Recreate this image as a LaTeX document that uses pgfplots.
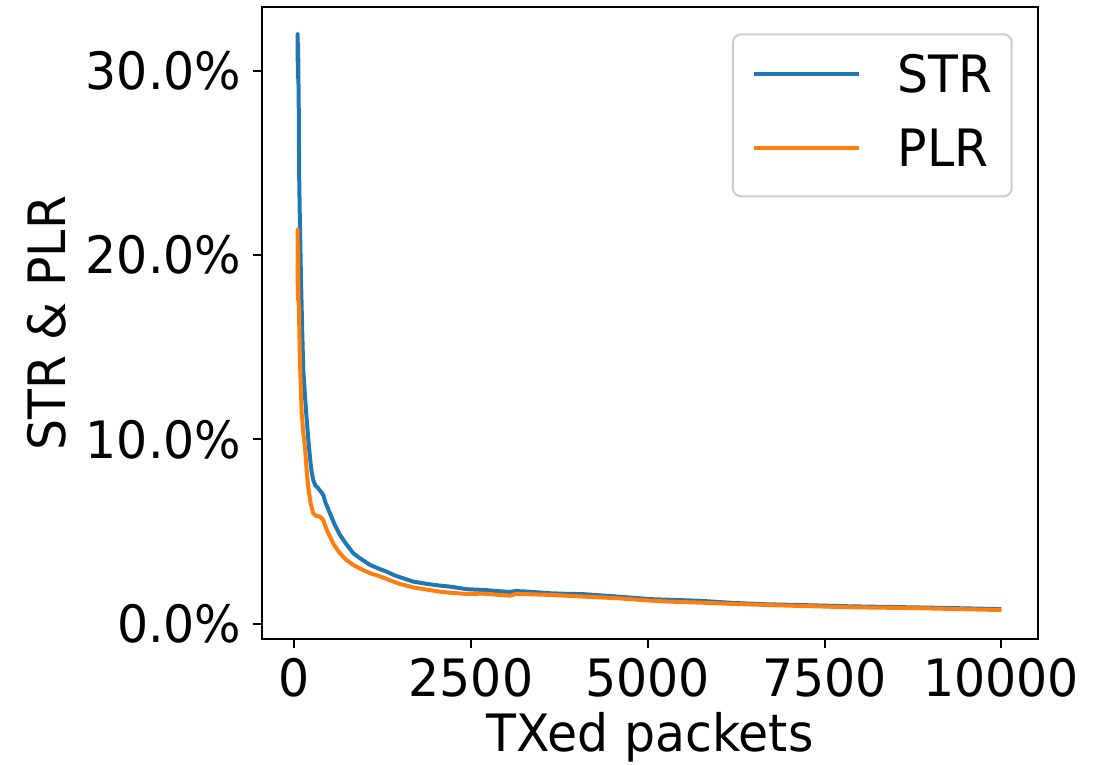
\documentclass[border=0pt]{standalone}
\usepackage{pgfplots}
\pgfplotsset{compat=1.18}
\usepackage{fontspec}
\setmainfont{DejaVu Sans}[FakeStretch=0.95]
\definecolor{mblue}{HTML}{1F77B4}
\definecolor{morange}{HTML}{FF7F0E}
\newcommand{\bigfont}{\fontsize{51.5}{60}\selectfont}

\pgfplotstableread{
x y
48 30.5
50 32.0
53 29.6
56 31.5
60 29.6
64 28.5
70 24.5
80 22.0
95 19.0
110 16.5
128 13.8
152 12.4
175 11.2
200 10.0
222 9.07
245 8.3
269 7.8
300 7.5
340 7.35
370 7.2
411 6.99
440 6.6
506 5.99
570 5.4
647 4.82
740 4.3
836 3.82
950 3.5
1072 3.19
1200 2.98
1309 2.82
1420 2.62
1544 2.46
1686 2.28
1875 2.16
2050 2.07
2205 2.01
2442 1.87
2677 1.83
2900 1.76
3055 1.72
3126 1.77
3300 1.74
3622 1.65
3850 1.62
4094 1.60
4566 1.47
5038 1.33
5275 1.30
5746 1.24
6218 1.12
6700 1.05
7163 1.01
7871 0.94
8816 0.88
9500 0.83
10000 0.79
}\strdata

\pgfplotstableread{
x y
48 18.5
50 21.4
52 17.6
55 20.5
58 18.2
62 17.4
67 17.2
80 14.5
95 12.7
105 11.5
130 10.3
152 9.6
175 8.4
198 7.44
230 6.6
269 5.99
310 5.85
364 5.81
411 5.63
440 5.3
482 4.91
560 4.3
647 3.82
740 3.45
836 3.19
950 2.95
1072 2.74
1190 2.6
1309 2.42
1497 2.15
1686 1.97
1875 1.85
2050 1.74
2205 1.68
2442 1.61
2677 1.63
2900 1.56
3055 1.52
3126 1.60
3300 1.60
3622 1.56
4094 1.47
4566 1.38
5038 1.25
5275 1.20
5746 1.14
6218 1.07
6700 1.01
7163 0.96
7871 0.89
8816 0.84
9500 0.78
10000 0.74
}\plrdata

\begin{document}
\begin{tikzpicture}
\path[use as bounding box] (-262pt,-124.7pt) rectangle (845pt,639.3pt);
\begin{axis}[
  scale only axis, width=775.7pt, height=632pt,
  xmin=-455, xmax=10515, ymin=-0.85, ymax=33.46,
  scaled x ticks=false, scaled y ticks=false,
  axis line style={line width=2pt},
  xtick={0,2500,5000,7500,10000}, xticklabels={0,2500,5000,7500,10000},
  ytick={0,10,20,30}, yticklabels={0.0\%,10.0\%,20.0\%,30.0\%},
  xtick pos=left, ytick pos=left, tick align=outside,
  major tick length=8.7pt, tick style={line width=2pt, black},
  tick label style={font=\bigfont},
  xticklabel style={anchor=base, inner sep=0pt, yshift=-48pt},
  yticklabel style={anchor=east, inner sep=0pt, xshift=-11.8pt},
  label style={font=\bigfont},
  xlabel={TXed packets}, ylabel={STR \& PLR},
  xlabel style={at={(axis description cs:0.5,-0.1783)}, anchor=base},
  ylabel style={at={(axis description cs:-0.2778,0.5)}, anchor=center},
  legend style={at={(axis description cs:1,1)}, anchor=north east,
    xshift=-25pt, yshift=-26pt, draw=black!20, line width=2pt,
    rounded corners=8pt, fill=white, font=\bigfont,
    inner xsep=19pt, inner ysep=21pt, row sep=27pt, column sep=36.8pt,
    cells={anchor=base west},
    nodes={inner sep=0pt, text height=37.5pt, text depth=9pt}},
  legend image code/.code={\draw[#1, line width=4pt, sharp corners] (0pt,18.75pt) -- (105pt,18.75pt);},
]
\addplot[mblue, line width=4pt, line join=round] table[x=x,y=y] {\strdata};
\addlegendentry{STR}
\addplot[morange, line width=4pt, line join=round] table[x=x,y=y] {\plrdata};
\addlegendentry{PLR}
\end{axis}
\end{tikzpicture}
\end{document}
